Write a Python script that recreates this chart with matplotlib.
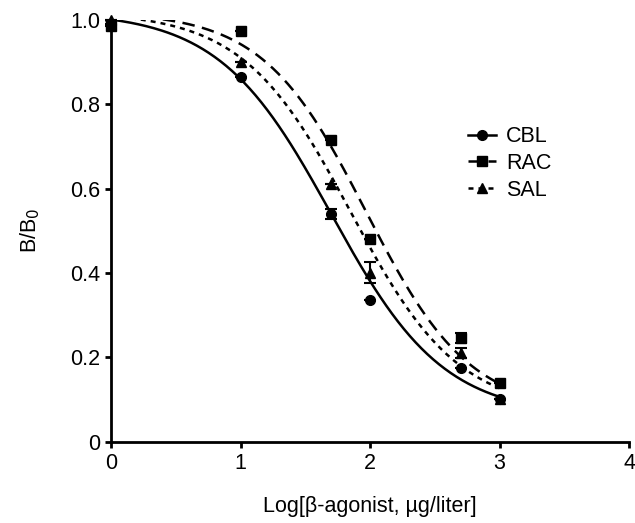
import numpy as np
import matplotlib.pyplot as plt

plt.rcParams['font.family'] = ['Liberation Sans', 'DejaVu Sans']

# measured points (log concentration vs B/B0)
log_conc = [0, 1, 1.7, 2, 2.7, 3]
cbl = [0.99, 0.865, 0.54, 0.335, 0.175, 0.10]
rac = [0.985, 0.975, 0.715, 0.48, 0.245, 0.14]
sal = [1.0, 0.90, 0.61, 0.40, 0.21, 0.10]
cbl_err = [0, 0, 0.012, 0, 0, 0]
rac_err = [0, 0, 0, 0, 0.012, 0]
sal_err = [0, 0, 0, 0.025, 0.012, 0]

# fitted logistic curves: top, bottom, slope, midpoint, start of curve
cbl_fit = (1.02, 0.06, 2.3, 1.70, 0.0)
rac_fit = (1.02, 0.07, 2.5, 1.97, 0.4)
sal_fit = (1.02, 0.07, 2.4, 1.85, 0.0)


def logistic(x, top, bottom, k, x0):
    return bottom + (top - bottom) / (1 + np.exp(k * (x - x0)))


fig, ax = plt.subplots(figsize=(6.35, 5.23), dpi=100)
fig.subplots_adjust(left=0.1748, right=0.9906, bottom=0.1558, top=0.9618)

series = [('CBL', cbl, cbl_err, cbl_fit, 'o', '-'),
          ('RAC', rac, rac_err, rac_fit, 's', (0, (5, 3))),
          ('SAL', sal, sal_err, sal_fit, '^', (0, (2, 2)))]
for name, vals, err, fit, mk, ls in series:
    xs = np.linspace(fit[4], 3, 200)
    ax.plot(xs, logistic(xs, *fit[:4]), color='black', lw=1.8, ls=ls)
    ax.errorbar(log_conc, vals, yerr=err, fmt=mk, color='black', ms=7,
                capsize=4, elinewidth=1.5, capthick=1.5, clip_on=False)
    ax.plot([], [], color='black', lw=1.8, ls=ls, marker=mk, ms=7, label=name)

ax.set_xlim(0, 4)
ax.set_ylim(0, 1.0)
ax.set_xticks([0, 1, 2, 3, 4])
ax.set_yticks([0, 0.2, 0.4, 0.6, 0.8, 1.0])
ax.set_yticklabels(['0', '0.2', '0.4', '0.6', '0.8', '1.0'])
ax.spines['top'].set_visible(False)
ax.spines['right'].set_visible(False)
ax.spines['left'].set_linewidth(2)
ax.spines['bottom'].set_linewidth(2)
ax.tick_params(width=2, length=4, labelsize=15.5, direction='out', pad=4)
ax.set_xlabel('Log[β-agonist, µg/liter]', fontsize=15.5, labelpad=16)
ax.set_ylabel('B/B$_0$', fontsize=15.5, labelpad=20)

ax.legend(loc='upper left', bbox_to_anchor=(0.651, 0.794), frameon=False,
          fontsize=15.5, handlelength=1.3, handletextpad=0.5, labelspacing=0.27)

fig.savefig('out.png', dpi=100)
